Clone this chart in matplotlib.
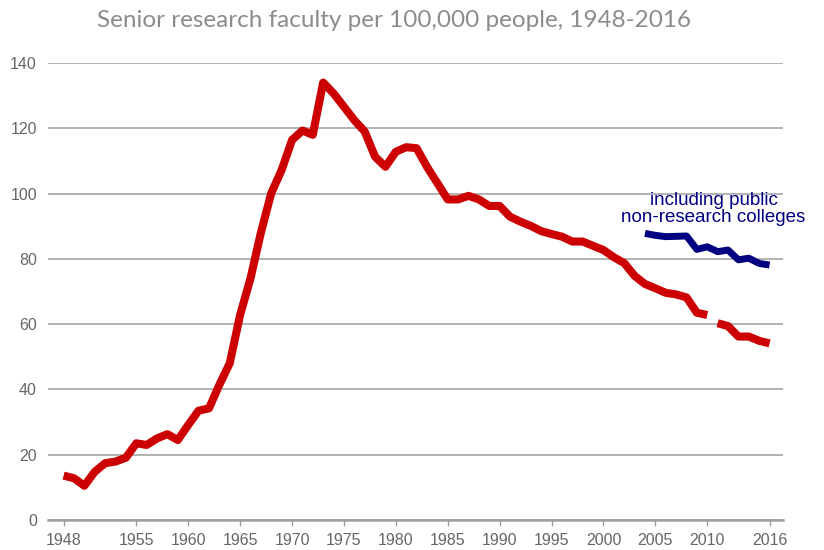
import numpy as np
import matplotlib.pyplot as plt

# senior research faculty per 100,000 people (red), break between 2010 and 2011
years_a = list(range(1948, 2011))
faculty_a = [13.6, 12.8, 10.5, 14.8, 17.4, 17.9, 19.1, 23.5, 23.0, 25.0,
             26.3, 24.5, 29.1, 33.5, 34.2, 41.4, 48.0, 62.8, 74.0, 88.0,
             100.1, 107.2, 116.4, 119.3, 118.0, 134.0, 130.7, 126.6, 122.5, 119.0,
             111.3, 108.2, 112.8, 114.2, 113.9, 108.2, 103.2, 98.2, 98.2, 99.3,
             98.2, 96.2, 96.2, 92.9, 91.4, 90.1, 88.5, 87.6, 86.8, 85.3,
             85.3, 84.0, 82.7, 80.5, 78.7, 74.8, 72.3, 71.0, 69.6, 69.1,
             68.2, 63.5, 62.8]
years_b = list(range(2011, 2017))
faculty_b = [60.3, 59.4, 56.2, 56.2, 54.9, 54.1]

# including public non-research colleges (blue)
years_pub = list(range(2004, 2017))
faculty_pub = [87.8, 87.2, 86.8, 86.9, 87.0, 82.9, 83.7, 82.2, 82.7, 79.7, 80.2, 78.6, 78.1]

yticks = [0, 20, 40, 60, 80, 100, 120, 140]
xticks = [1948, 1955, 1960, 1965, 1970, 1975, 1980, 1985, 1990, 1995, 2000, 2005, 2010, 2016]

fig = plt.figure(figsize=(8.24, 5.5), dpi=100)
ax = fig.add_axes([0.0583, 0.0545, 0.892, 0.831])

red = '#cc0000'
navy = '#000080'
ax.plot(years_a, faculty_a, color=red, lw=5.8, solid_capstyle='butt', solid_joinstyle='round', zorder=3)
ax.plot(years_b, faculty_b, color=red, lw=5.8, solid_capstyle='butt', solid_joinstyle='round', zorder=3)
ax.plot(years_pub, faculty_pub, color=navy, lw=5.0, solid_capstyle='butt', solid_joinstyle='round', zorder=3)

ax.text(2010.6, 95.3, 'including public\nnon-research colleges', color=navy,
        fontsize=13.5, family='Liberation Sans', ha='center', va='center', linespacing=1.0)

ax.set_xlim(1946.5, 2017.3)
ax.set_ylim(0, 140)
ax.set_yticks(yticks)
ax.set_xticks(xticks)
ax.grid(axis='y', color='#a6a6a6', lw=1.2)
ax.set_axisbelow(True)
for s in ['top', 'right', 'left']:
    ax.spines[s].set_visible(False)
ax.spines['bottom'].set_color('#a0a0a0')
ax.spines['bottom'].set_linewidth(1.8)
ax.spines['bottom'].set_zorder(2)
ax.tick_params(axis='y', length=0, pad=8, labelsize=11.5, labelcolor='#666666')
ax.tick_params(axis='x', length=4, color='#a0a0a0', width=1, pad=5, labelsize=11.5, labelcolor='#666666')
for lab in ax.get_xticklabels() + ax.get_yticklabels():
    lab.set_family('Liberation Sans')

fig.text(0.478, 0.962, 'Senior research faculty per 100,000 people, 1948-2016',
         ha='center', va='center', fontsize=17.5, color='#8c8c8c', family='Lato')

fig.savefig('out.png', dpi=100)
